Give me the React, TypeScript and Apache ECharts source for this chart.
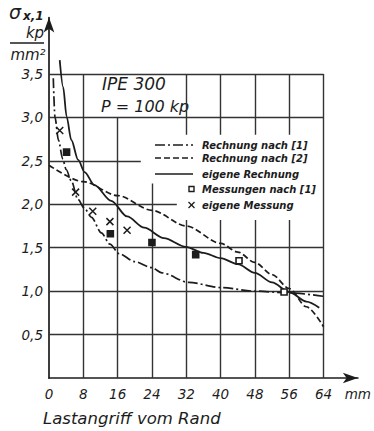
import React, { useEffect, useRef } from "react";
import * as echarts from "echarts";

// Rechnung nach [1] (dash-dot)
const rn1X = [1.0, 1.4, 2.2, 3.2, 4.0, 5.2, 6.7, 8.3, 9.9, 12.2, 14.2, 16.4, 20, 24, 26.3, 32.6, 40.2, 48, 56, 64];
const rn1Y = [3.45, 3.0, 2.74, 2.52, 2.4, 2.27, 2.06, 1.95, 1.85, 1.67, 1.54, 1.43, 1.34, 1.27, 1.21, 1.1, 1.04, 1.0, 0.98, 0.94];
// Rechnung nach [2] (dashed)
const rn2X = [0, 8, 16, 24, 32, 40, 44, 48, 52, 56, 60, 64];
const rn2Y = [2.45, 2.26, 2.1, 1.93, 1.75, 1.55, 1.45, 1.33, 1.19, 1.03, 0.82, 0.59];
// eigene Rechnung (solid)
const egX = [2.5, 3.3, 4.1, 5.2, 6.8, 8.3, 10.6, 14.5, 18.2, 22.2, 26.8, 31.9, 36, 40, 44, 48, 52, 56, 60, 63];
const egY = [3.66, 3.35, 3.01, 2.74, 2.51, 2.37, 2.22, 2.04, 1.86, 1.73, 1.61, 1.51, 1.44, 1.38, 1.31, 1.21, 1.1, 0.99, 0.88, 0.81];
// Messungen nach [1] (the first four print as solid dots in the scan)
const mnX = [4.1, 14.3, 24, 34.2, 44.3, 54.8];
const mnY = [2.6, 1.66, 1.56, 1.42, 1.35, 0.99];
const mnFilled = [true, true, true, true, false, false];
// eigene Messung
const emX = [2.5, 6.2, 10.2, 14.2, 18.2];
const emY = [2.85, 2.14, 1.92, 1.8, 1.7];

const legendNames = ["Rechnung nach [1]", "Rechnung nach [2]", "eigene Rechnung", "Messungen nach [1]", "eigene Messung"];

// grid line segments (data units), partly hidden by the text boxes
const vGridX = [8, 16, 24, 32, 40, 48, 56, 64];
const vGridSpans = [
  [[0, 3.5]],
  [[0, 3.0]],
  [[0, 2.24]],
  [[0, 1.82], [2.8, 3.5]],
  [[0, 1.82], [2.8, 3.5]],
  [[0, 1.82], [2.8, 3.5]],
  [[0, 1.82], [2.8, 3.5]],
  [[0, 3.5]],
];
const hGridY = [0.5, 1.0, 1.5, 2.0, 2.5, 3.0, 3.5];
const hGridEnd = [64, 64, 64, 29.8, 21.4, 64, 64];

const zip = (a: number[], b: number[]) => a.map((v, i) => [v, b[i]]);

const INK = "#1c1c1c";
const FONT = "DejaVu Sans";

export default function App() {
  const ref = useRef<HTMLDivElement>(null);
  useEffect(() => {
    if (!ref.current) return;
    const chart = echarts.init(ref.current, undefined, { renderer: "svg" });

    const gridSegs: any[] = [];
    vGridX.forEach((x, i) => {
      vGridSpans[i].forEach((s) => gridSegs.push({ coords: [[x, s[0]], [x, s[1]]] }));
    });
    hGridY.forEach((y, i) => gridSegs.push({ coords: [[0, y], [hGridEnd[i], y]] }));

    const rowY = [145, 158, 174, 189, 205];
    const lx1 = 155, lx2 = 193, tx = 202;
    const legendGraphics: any[] = [];
    const dashes: any[] = [[10, 3, 2, 3], [6, 3], null];
    for (let i = 0; i < 3; i++) {
      legendGraphics.push({
        type: "line",
        shape: { x1: lx1, y1: rowY[i], x2: lx2, y2: rowY[i] },
        style: { stroke: INK, lineWidth: 1.7, lineDash: dashes[i] || undefined },
      });
    }
    legendGraphics.push({
      type: "rect",
      shape: { x: 189, y: rowY[3] - 2.5, width: 5, height: 5 },
      style: { fill: "#fff", stroke: INK, lineWidth: 1.4 },
    });
    legendGraphics.push({ type: "line", shape: { x1: 188.5, y1: rowY[4] - 3, x2: 194.5, y2: rowY[4] + 3 }, style: { stroke: INK, lineWidth: 1.3 } });
    legendGraphics.push({ type: "line", shape: { x1: 194.5, y1: rowY[4] - 3, x2: 188.5, y2: rowY[4] + 3 }, style: { stroke: INK, lineWidth: 1.3 } });
    legendNames.forEach((n, i) => {
      legendGraphics.push({
        type: "text",
        x: tx,
        y: rowY[i],
        style: {
          text: n,
          fill: INK,
          font: `italic bold 10px "${FONT}"`,
          textAlign: "left",
          textVerticalAlign: "middle",
        },
      });
    });

    const option: any = {
      animation: false,
      backgroundColor: "#fff",
      grid: { left: 49, right: 13.2, top: 17.5, bottom: 53, containLabel: false },
      xAxis: {
        type: "value",
        min: 0,
        max: 72,
        interval: 8,
        axisLine: { show: true, lineStyle: { color: INK, width: 1.7 }, symbol: ["none", "arrow"], symbolSize: [8, 15] },
        axisTick: { show: false },
        splitLine: { show: false },
        axisLabel: {
          color: INK,
          fontFamily: FONT,
          fontStyle: "italic",
          fontSize: 13.5,
          margin: 9,
          formatter: (v: number) => (v === 72 ? "mm" : v > 64 ? "" : String(v)),
        },
      },
      yAxis: {
        type: "value",
        min: 0,
        max: 4.15,
        interval: 0.5,
        axisLine: { show: true, lineStyle: { color: INK, width: 1.7 }, symbol: ["none", "arrow"], symbolSize: [8, 15] },
        axisTick: { show: false },
        splitLine: { show: false },
        axisLabel: {
          color: INK,
          fontFamily: FONT,
          fontStyle: "italic",
          fontSize: 13.5,
          margin: 6,
          formatter: (v: number) => (v <= 0 || v > 3.5 ? "" : v.toFixed(1).replace(".", ",")),
        },
      },
      series: [
        {
          type: "lines",
          coordinateSystem: "cartesian2d",
          silent: true,
          z: 1,
          lineStyle: { color: "#333", width: 1.4, opacity: 1 },
          data: gridSegs,
        },
        {
          name: legendNames[0],
          type: "line",
          data: zip(rn1X, rn1Y),
          symbol: "none",
          smooth: 0.3,
          smoothMonotone: "x",
          z: 3,
          lineStyle: { color: INK, width: 1.7, type: [10, 3, 2, 3] },
        },
        {
          name: legendNames[1],
          type: "line",
          data: zip(rn2X, rn2Y),
          symbol: "none",
          smooth: 0.3,
          smoothMonotone: "x",
          z: 3,
          lineStyle: { color: INK, width: 1.7, type: [6, 3] },
        },
        {
          name: legendNames[2],
          type: "line",
          data: zip(egX, egY),
          symbol: "none",
          smooth: 0.3,
          smoothMonotone: "x",
          z: 3,
          lineStyle: { color: INK, width: 1.8, type: "solid" },
        },
        {
          name: legendNames[3],
          type: "scatter",
          data: mnX.map((x, i) => ({
            value: [x, mnY[i]],
            itemStyle: { color: mnFilled[i] ? INK : "#fff" },
          })),
          symbol: "rect",
          symbolSize: 6,
          z: 4,
          itemStyle: { borderColor: INK, borderWidth: 1.6, opacity: 1 },
        },
        {
          name: legendNames[4],
          type: "scatter",
          data: zip(emX, emY),
          symbol: "path://M0,0L10,10M10,0L0,10",
          symbolSize: 7,
          z: 4,
          itemStyle: { color: "transparent", borderColor: INK, borderWidth: 1.5, opacity: 1 },
        },
      ],
      graphic: [
        {
          type: "text",
          x: 9,
          y: 12,
          style: { text: "σ", fill: INK, font: `italic 19px "${FONT}"`, textAlign: "left", textVerticalAlign: "middle" },
        },
        {
          type: "text",
          x: 23,
          y: 16,
          style: { text: "x,1", fill: INK, font: `italic bold 12px "${FONT}"`, textAlign: "left", textVerticalAlign: "middle" },
        },
        {
          type: "text",
          x: 35,
          y: 33,
          style: { text: "kp", fill: INK, font: `italic 15px "${FONT}"`, textAlign: "center", textVerticalAlign: "middle" },
        },
        { type: "line", shape: { x1: 10, y1: 43, x2: 44, y2: 43 }, style: { stroke: INK, lineWidth: 1.6 } },
        {
          type: "text",
          x: 28,
          y: 55,
          style: { text: "mm²", fill: INK, font: `italic 15px "${FONT}"`, textAlign: "center", textVerticalAlign: "middle" },
        },
        {
          type: "text",
          x: 102,
          y: 84,
          style: { text: "IPE 300", fill: INK, font: `italic 17px "${FONT}"`, textAlign: "left", textVerticalAlign: "middle" },
        },
        {
          type: "text",
          x: 101,
          y: 106,
          style: { text: "P = 100 kp", fill: INK, font: `italic 16px "${FONT}"`, textAlign: "left", textVerticalAlign: "middle" },
        },
        {
          type: "text",
          x: 43,
          y: 418,
          style: { text: "Lastangriff vom Rand", fill: INK, font: `italic 16.5px "${FONT}"`, textAlign: "left", textVerticalAlign: "middle" },
        },
        ...legendGraphics,
      ],
    };
    chart.setOption(option);
    return () => chart.dispose();
  }, []);
  return <div ref={ref} style={{ width: 374, height: 431, position: "absolute", left: 0, top: 0 }} />;
}
